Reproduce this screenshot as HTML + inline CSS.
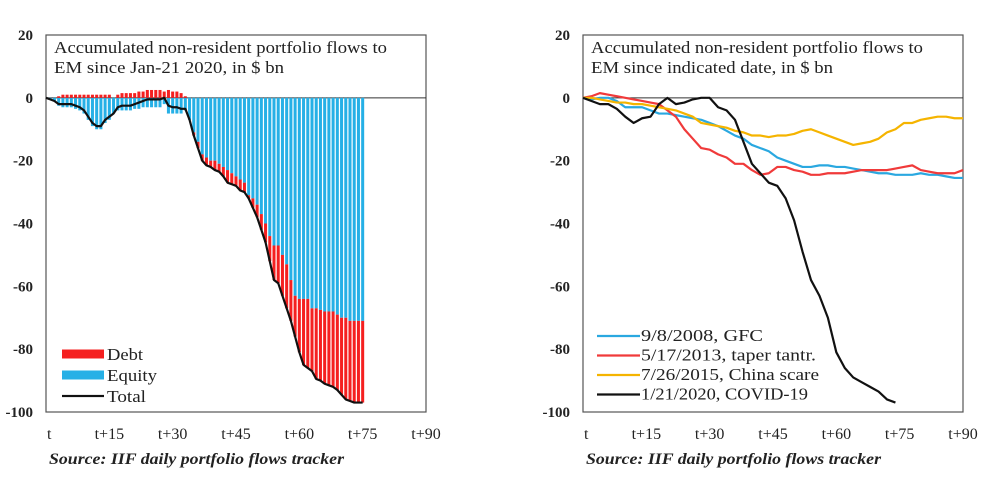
<!DOCTYPE html>
<html><head><meta charset="utf-8"><style>
body{margin:0;background:#fff;}
svg text{font-family:"Liberation Serif",serif;fill:#222;}
</style></head><body>
<svg id="c" width="992" height="480" xmlns="http://www.w3.org/2000/svg"></svg>
<script>
const days = 76;
const equity = [0,-0.5,-1,-2.5,-3,-3,-3,-3.5,-4,-5,-7,-9,-10,-10,-8,-7,-5,-4,-4,-4,-4,-3.5,-3.5,-3,-3,-3,-3,-3,-2,-5,-5,-5,-5,-4,-7,-11,-14,-18,-19,-20,-20,-21,-22,-23,-24,-25,-26,-27,-31,-32,-34,-37,-40,-44,-47,-47,-50,-53,-58,-63,-64,-64,-64,-67,-67,-67.5,-68,-68,-68,-69,-70,-70,-71,-71,-71,-71];
const debt = [0,0,0,0.5,1,1,1,1,1,1,1,1,1,1,1,1,0,1,1.5,1.5,1.5,1.5,2,2,2.5,2.5,2.5,2.5,2,2.5,2,2,1.5,0.5,0,-1,-2,-2,-2.5,-2,-3,-2.5,-3,-4,-3.5,-3,-3.5,-3,-1,-3,-4,-5,-6,-8,-11,-12,-13,-14,-13,-13,-17,-21,-22,-20,-22.5,-22.5,-23,-23.5,-24,-24,-24.5,-26,-25.5,-26,-26,-26];
const gfc = [0,-0.5,0,0,-1,-3,-3,-3,-4,-5,-5,-5.5,-6,-6.5,-7,-8,-9,-10.5,-12,-13,-15,-16,-17,-19,-20,-21,-22,-22,-21.5,-21.5,-22,-22,-22.5,-23,-23.5,-24,-24,-24.5,-24.5,-24.5,-24,-24.5,-24.5,-25,-25.5,-25.5];
const taper = [0,0.5,1.5,1,0.5,0,-0.5,-1,-1.5,-2,-4,-6,-10,-13,-16,-16.5,-18,-19,-21,-21,-23,-24.5,-24,-22,-22,-23,-23.5,-24.5,-24.5,-24,-24,-24,-23.5,-23,-23,-23,-23,-22.5,-22,-21.5,-23,-23.5,-24,-24,-24,-23];
const china = [0,0,-0.5,-1,-1.5,-1.5,-2,-2,-2.5,-3,-3.5,-4,-5,-6,-8,-8.5,-9,-9.5,-10.5,-11,-12,-12,-12.5,-12,-12,-11.5,-10.5,-10,-11,-12,-13,-14,-15,-14.5,-14,-13,-11,-10,-8,-8,-7,-6.5,-6,-6,-6.5,-6.5];
const covid = [0,-1,-2,-2,-3.5,-6,-8,-6.5,-6,-2,0,-2,-1.5,-0.5,0,0,-3,-4,-7,-14,-21,-24,-27,-28,-32,-39,-49,-58,-63,-70,-81,-86,-89,-90.5,-92,-93.5,-96,-97];
const yTicks = [20,0,-20,-40,-60,-80,-100];
const xTicks = ["t","t+15","t+30","t+45","t+60","t+75","t+90"];

const svg = document.getElementById('c');
const NS = 'http://www.w3.org/2000/svg';
function mk(tag, attrs, parent){const e=document.createElementNS(NS,tag);for(const k in attrs)e.setAttribute(k,attrs[k]);(parent||svg).appendChild(e);return e;}
const Y = v => 35 + (20 - v) * (377/120);
function X(left, d){return left + d * (380/90);}

function frame(left, name, title1, title2, tl1, tl2){
  const g = mk('g',{});
  
  
  const r = mk('rect',{x:left,y:35,width:380,height:377,fill:'none',stroke:'#555','stroke-width':1.2},g);
   
  const z = mk('line',{x1:left,x2:left+380,y1:Y(0),y2:Y(0),stroke:'#333','stroke-width':1},g);
   
  yTicks.forEach(v=>{
    const t = mk('text',{x:left-13,y:Y(v)+5,'text-anchor':'end','font-size':15,'font-weight':'bold',fill:'#333'},g);
    t.textContent = v;
     
  });
  xTicks.forEach((s,i)=>{
    const x = X(left, i*15);
    const t = mk('text',{x: i===0 ? x+1 : x,y:439,'text-anchor':i===0?'start':'middle','font-size':16,fill:'#333'},g);
    t.textContent = s;
     
  });
  [[title1,tl1],[title2,tl2]].forEach((s,i)=>{
    const t = mk('text',{x:left+8,y:53+i*20,'font-size':17,textLength:s[1],lengthAdjust:'spacingAndGlyphs'},g);
    t.textContent = s[0];
     
  });
  const src = mk('text',{x:left+3,y:464,'font-size':16,'font-style':'italic','font-weight':'bold',fill:'#333',textLength:295,lengthAdjust:'spacingAndGlyphs'},g);
  src.textContent = 'Source: IIF daily portfolio flows tracker';
   
  return g;
}

// Left chart
const L = 46;
const gl = frame(L,'left-chart','Accumulated non-resident portfolio flows to','EM since Jan-21 2020, in $ bn',333,230);
const bw = 380/90;
for(let d=0; d<days; d++){
  const x = X(L,d) - bw/2 + 0.6;
  const w = bw - 1.2;
  const e = equity[d], db = debt[d];
  if(e !== 0){
    const b = mk('rect',{x:x,y:Y(0),width:w,height:Y(e)-Y(0),fill:'#26b0e6'},gl);
     
  }
  if(db > 0){
    const b = mk('rect',{x:x,y:Y(db),width:w,height:Y(0)-Y(db),fill:'#f52020'},gl);
     
  } else if(db < 0){
    const b = mk('rect',{x:x,y:Y(e),width:w,height:Y(e+db)-Y(e),fill:'#f52020'},gl);
     
  }
}
const tp = equity.map((e,d)=>X(L,d)+','+Y(e+debt[d])).join(' ');
const tl = mk('polyline',{points:tp,fill:'none',stroke:'#111','stroke-width':2.2,'stroke-linejoin':'round'},gl);
 
// left legend
[['Debt','#f52020',9,36],['Equity','#26b0e6',9,50],['Total','#111',2.2,39]].forEach((l,i)=>{
  const y = 354 + i*21;
  const g = mk('g',{},gl);
   
  mk('rect',{x:62,y:y-l[2]/2,width:42,height:l[2],fill:l[1]},g);
  const t = mk('text',{x:107,y:y+6,'font-size':17,textLength:l[3],lengthAdjust:'spacingAndGlyphs'},g); t.textContent = l[0];
});

// Right chart
const R = 583;
const gr = frame(R,'right-chart','Accumulated non-resident portfolio flows to','EM since indicated date, in $ bn',332,242);
const series = [['gfc',gfc,'#2aa8e0'],['taper',taper,'#f03a3a'],['china',china,'#f5b400'],['covid',covid,'#111']];
series.forEach(s=>{
  const pts = s[1].map((v,i)=>X(R,i*2)+','+Y(v)).join(' ');
  const p = mk('polyline',{points:pts,fill:'none',stroke:s[2],'stroke-width':2.2,'stroke-linejoin':'round'},gr);
  
  
});
[['9/8/2008, GFC','#2aa8e0',122],['5/17/2013, taper tantr.','#f03a3a',175],['7/26/2015, China scare','#f5b400',178],['1/21/2020, COVID-19','#111',167]].forEach((l,i)=>{
  const y = 336 + i*19.5;
  const g = mk('g',{},gr);
   
  mk('line',{x1:597,x2:640,y1:y,y2:y,stroke:l[1],'stroke-width':2.2},g);
  const t = mk('text',{x:641,y:y+5,'font-size':17,textLength:l[2],lengthAdjust:'spacingAndGlyphs'},g); t.textContent = l[0];
});
</script>
</body></html>
